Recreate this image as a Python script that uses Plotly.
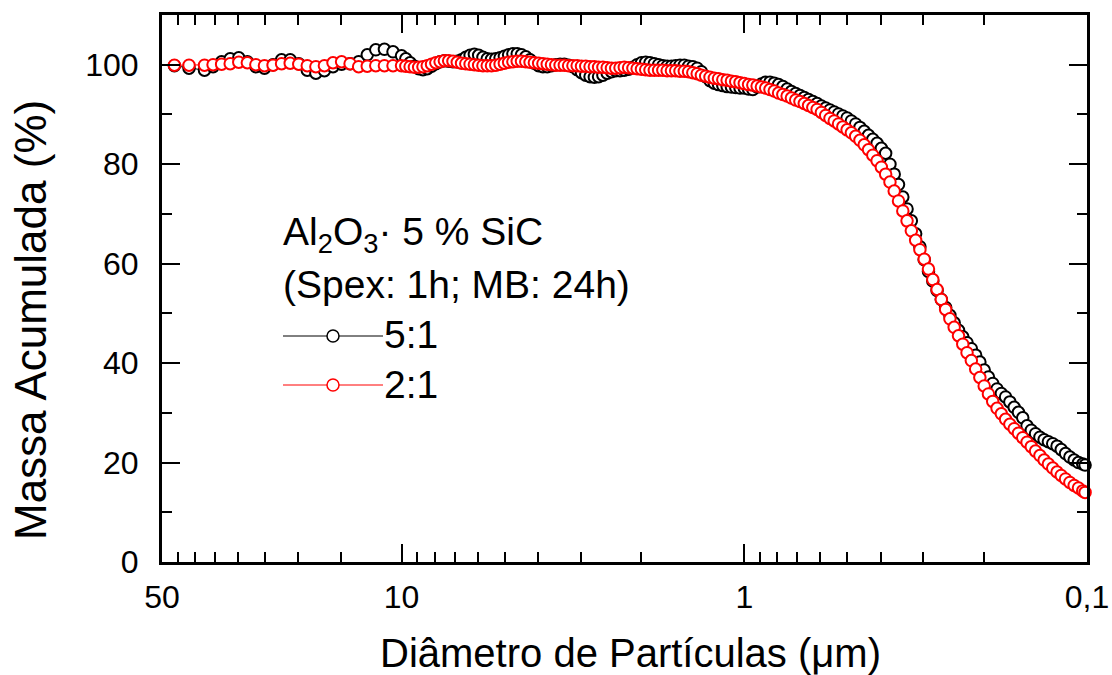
import numpy as np
import plotly.graph_objects as go

# ---------------- data ----------------
# particle diameters (um), descending
x_coarse = [46.0, 41.7, 37.58, 35.48, 33.50, 31.62, 29.85, 28.18, 26.61, 25.12,
            23.71, 22.39, 21.13, 19.95, 18.84, 17.78, 16.79, 15.85, 14.96, 14.13,
            13.34, 12.59, 11.89, 11.22, 10.59]
x_mid = [10.0, 9.716, 9.441, 9.173, 8.913, 8.660, 8.414, 8.175, 7.943, 7.718,
         7.499, 7.286, 7.079, 6.879, 6.683, 6.494, 6.310, 6.131, 5.957, 5.788,
         5.623, 5.464, 5.309, 5.158, 5.012, 4.870, 4.732, 4.597, 4.467, 4.340,
         4.217, 4.097, 3.981, 3.868, 3.758, 3.652, 3.548, 3.447, 3.350, 3.255,
         3.162, 3.073, 2.985, 2.901, 2.818, 2.738, 2.661, 2.585, 2.512, 2.441,
         2.371, 2.304, 2.239, 2.175, 2.113, 2.054, 1.995, 1.939, 1.884, 1.830,
         1.778, 1.728, 1.679, 1.631, 1.585, 1.540, 1.496, 1.454, 1.413, 1.372,
         1.334, 1.296, 1.259, 1.223, 1.189, 1.155, 1.122, 1.090, 1.059, 1.029]
x_fine = [1.000, 0.9716, 0.9441, 0.9173, 0.8913, 0.8660, 0.8414, 0.8175, 0.7943, 0.7718,
          0.7499, 0.7286, 0.7079, 0.6879, 0.6683, 0.6494, 0.6310, 0.6131, 0.5957, 0.5788,
          0.5623, 0.5464, 0.5309, 0.5158, 0.5012, 0.4870, 0.4732, 0.4597, 0.4467, 0.4340,
          0.4217, 0.4097, 0.3981, 0.3868, 0.3758, 0.3652, 0.3548, 0.3447, 0.3350, 0.3255,
          0.3162, 0.3073, 0.2985, 0.2901, 0.2818, 0.2738, 0.2661, 0.2585, 0.2512, 0.2441,
          0.2371, 0.2304, 0.2239, 0.2175, 0.2113, 0.2054, 0.1995, 0.1939, 0.1884, 0.1830,
          0.1778, 0.1728, 0.1679, 0.1631, 0.1585, 0.1540, 0.1496, 0.1454, 0.1413, 0.1372,
          0.1334, 0.1296, 0.1259, 0.1223, 0.1189, 0.1155, 0.1122, 0.1090, 0.1059, 0.1029,
          0.1013]

# Massa acumulada (%) - serie 5:1
y51_coarse = [99.8, 99.3, 98.9, 99.6, 100.6, 101.2, 101.4, 100.6, 99.6, 99.3,
              100.0, 101.0, 101.0, 100.2, 98.9, 98.3, 98.8, 99.6, 100.1, 100.2,
              100.6, 102.0, 103.0, 103.1, 102.6]
y51_mid = [101.8, 101.2, 100.4, 99.7, 99.2, 99.0, 99.2, 99.7, 100.2, 100.6,
           100.8, 100.7, 100.6, 100.7, 101.0, 101.5, 101.9, 102.1, 101.9, 101.5,
           101.2, 101.1, 101.2, 101.4, 101.7, 102.0, 102.2, 102.2, 102.0, 101.6,
           101.0, 100.3, 99.8, 99.6, 99.6, 99.8, 100.0, 100.1, 100.1, 99.9,
           99.6, 99.0, 98.4, 97.9, 97.6, 97.5, 97.6, 97.9, 98.3, 98.6,
           98.8, 98.8, 98.9, 99.1, 99.5, 100.0, 100.4, 100.5, 100.4, 100.2,
           100.0, 99.8, 99.7, 99.7, 99.8, 99.9, 99.9, 99.7, 99.6, 99.3,
           98.6, 97.6, 96.8, 96.3, 96.0, 95.8, 95.6, 95.5, 95.4, 95.3]
y51_fine = [95.3, 95.1, 95.0, 95.5, 96.1, 96.5, 96.5, 96.3, 96.0, 95.6,
            95.1, 94.6, 94.2, 93.8, 93.4, 93.0, 92.6, 92.2, 91.7, 91.3,
            90.9, 90.5, 90.1, 89.7, 89.3, 88.7, 88.1, 87.4, 86.6, 85.8,
            85.0, 84.2, 83.2, 82.2, 80.0, 78.0, 75.9, 73.4, 71.0, 68.6,
            66.0, 63.4, 60.8, 58.4, 56.5, 54.6, 52.8, 51.2, 49.6, 48.1,
            46.6, 45.3, 44.1, 42.9, 41.6, 40.2, 38.6, 37.2, 35.9, 34.8,
            33.9, 33.2, 32.2, 31.1, 30.1, 29.0, 27.4, 26.5, 25.8, 25.1,
            24.6, 24.2, 23.8, 23.3, 22.6, 21.8, 21.1, 20.5, 20.0, 19.7,
            19.5]

# Massa acumulada (%) - serie 2:1
y21_coarse = [99.9, 99.9, 99.9, 100.0, 100.1, 100.2, 100.5, 100.4, 100.0, 99.8,
              99.9, 100.2, 100.3, 100.1, 99.8, 99.6, 99.8, 100.4, 100.6, 100.2,
              99.6, 99.7, 99.8, 99.8, 99.8]
y21_mid = [99.8, 99.7, 99.6, 99.5, 99.5, 99.6, 99.8, 100.1, 100.4, 100.6,
           100.8, 100.8, 100.7, 100.5, 100.3, 100.2, 100.1, 100.0, 99.9, 99.8,
           99.8, 99.8, 99.9, 100.1, 100.3, 100.5, 100.6, 100.7, 100.7, 100.6,
           100.5, 100.4, 100.3, 100.2, 100.1, 100.0, 99.9, 99.9, 99.9, 99.8,
           99.8, 99.8, 99.7, 99.7, 99.6, 99.6, 99.5, 99.5, 99.4, 99.3,
           99.3, 99.4, 99.5, 99.4, 99.3, 99.2, 99.1, 99.0, 98.9, 98.9,
           98.9, 98.9, 98.8, 98.8, 98.8, 98.7, 98.7, 98.6, 98.4, 98.2,
           97.9, 97.7, 97.5, 97.3, 97.2, 97.0, 96.9, 96.7, 96.6, 96.4]
y21_fine = [96.2, 96.0, 95.9, 95.7, 95.5, 95.3, 95.0, 94.7, 94.3, 94.0,
            93.7, 93.3, 92.9, 92.6, 92.2, 91.8, 91.4, 91.0, 90.4, 89.8,
            89.2, 88.7, 88.1, 87.5, 86.9, 86.3, 85.6, 84.8, 83.9, 82.9,
            81.8, 80.7, 79.4, 78.0, 76.4, 74.6, 72.6, 70.6, 68.6, 66.6,
            64.7, 62.8, 60.9, 58.9, 56.8, 54.8, 52.8, 50.8, 48.9, 47.2,
            45.5, 43.8, 42.1, 40.5, 38.8, 37.1, 35.4, 33.8, 32.3, 30.9,
            29.8, 28.7, 27.7, 26.8, 25.9, 25.0, 24.1, 23.2, 22.3, 21.4,
            20.5, 19.7, 18.9, 18.1, 17.4, 16.7, 16.0, 15.4, 14.9, 14.3,
            14.0]

x_tickvals = [50, 10, 1, 0.1]
x_ticktext = ["50", "10", "1", "0,1"]
x_minor = [45, 40, 35, 30, 25, 20, 15,
           9, 8, 7, 6, 5, 4, 3, 2,
           0.9, 0.8, 0.7, 0.6, 0.5, 0.4, 0.3, 0.2]
y_tickvals = [0, 20, 40, 60, 80, 100]
y_minor = [10, 30, 50, 70, 90]

series_names = ["5:1", "2:1"]
series_colors = ["black", "rgb(255,0,0)"]

# ---------------- figure ----------------
FONT = "Arial, 'Liberation Sans', sans-serif"
W, H = 1112, 675
L, R, T, B = 162, 25, 15, 113
pw, ph = W - L - R, H - T - B

def px(xp):
    return (xp - L) / pw

def py(yp):
    return (H - B - yp) / ph

x_all = x_coarse + x_mid + x_fine
ys = [y51_coarse + y51_mid + y51_fine, y21_coarse + y21_mid + y21_fine]

fig = go.Figure()
for name, col, y in zip(series_names, series_colors, ys):
    fig.add_trace(go.Scatter(
        x=x_all, y=y, name=name, mode="lines+markers",
        line=dict(color=col, width=1),
        marker=dict(symbol="circle", size=11.5, color="white",
                    line=dict(color=col, width=2)),
        cliponaxis=False, showlegend=False))

axis_common = dict(
    showline=True, linecolor="black", linewidth=3, mirror="allticks",
    ticks="inside", ticklen=18, tickwidth=2, tickcolor="black",
    showgrid=False, zeroline=False, automargin=False,
    tickfont=dict(family=FONT, size=32, color="black"),
)

fig.update_xaxes(
    type="log", range=[np.log10(50), np.log10(0.1)], autorange=False,
    tickmode="array", tickvals=x_tickvals, ticktext=x_ticktext,
    minor=dict(tickmode="array", tickvals=x_minor, ticks="inside",
               ticklen=10, tickwidth=2, tickcolor="black"),
    ticklabelstandoff=5,
    **axis_common)
fig.update_yaxes(
    range=[0, 110], autorange=False,
    tickmode="array", tickvals=y_tickvals,
    minor=dict(tickmode="array", tickvals=y_minor, ticks="inside",
               ticklen=10, tickwidth=2, tickcolor="black"),
    ticklabelstandoff=14,
    **axis_common)

annotations = [
    dict(text="Massa Acumulada (%)", x=px(31), y=py(320), textangle=-90,
         font=dict(family=FONT, size=44, color="black")),
    dict(text="Diâmetro de Partículas (μm)", x=px(630), y=py(653),
         font=dict(family=FONT, size=40, color="black")),
    dict(text="Al<sub>2</sub>O<sub>3</sub>· 5 % SiC", x=px(281), y=py(234),
         xanchor="left", font=dict(family=FONT, size=39, color="black")),
    dict(text="(Spex: 1h; MB: 24h)", x=px(281), y=py(284),
         xanchor="left", font=dict(family=FONT, size=39, color="black")),
]
for name, yc in zip(series_names, [334, 384]):
    annotations.append(dict(text=name, x=px(382), y=py(yc), xanchor="left",
                            font=dict(family=FONT, size=39, color="black")))
for a in annotations:
    a.update(xref="paper", yref="paper", showarrow=False)
    a.setdefault("xanchor", "center")
    a.setdefault("yanchor", "middle")

shapes = []
for col, yl in zip(series_colors, [336, 385]):
    shapes.append(dict(type="line", xref="paper", yref="paper",
                       x0=px(283), x1=px(383), y0=py(yl), y1=py(yl),
                       line=dict(color=col, width=1)))
    shapes.append(dict(type="circle", xref="paper", yref="paper",
                       x0=px(333 - 6), x1=px(333 + 6),
                       y0=py(yl + 6), y1=py(yl - 6),
                       fillcolor="white", line=dict(color=col, width=1.5)))

fig.update_layout(
    width=W, height=H, autosize=False,
    margin=dict(l=L, r=R, t=T, b=B, pad=0),
    paper_bgcolor="white", plot_bgcolor="white",
    showlegend=False,
    annotations=annotations, shapes=shapes,
)

fig.write_html("out.html", include_plotlyjs=True, full_html=True,
               config={"displayModeBar": False},
               post_script="document.body.style.margin='0';")
